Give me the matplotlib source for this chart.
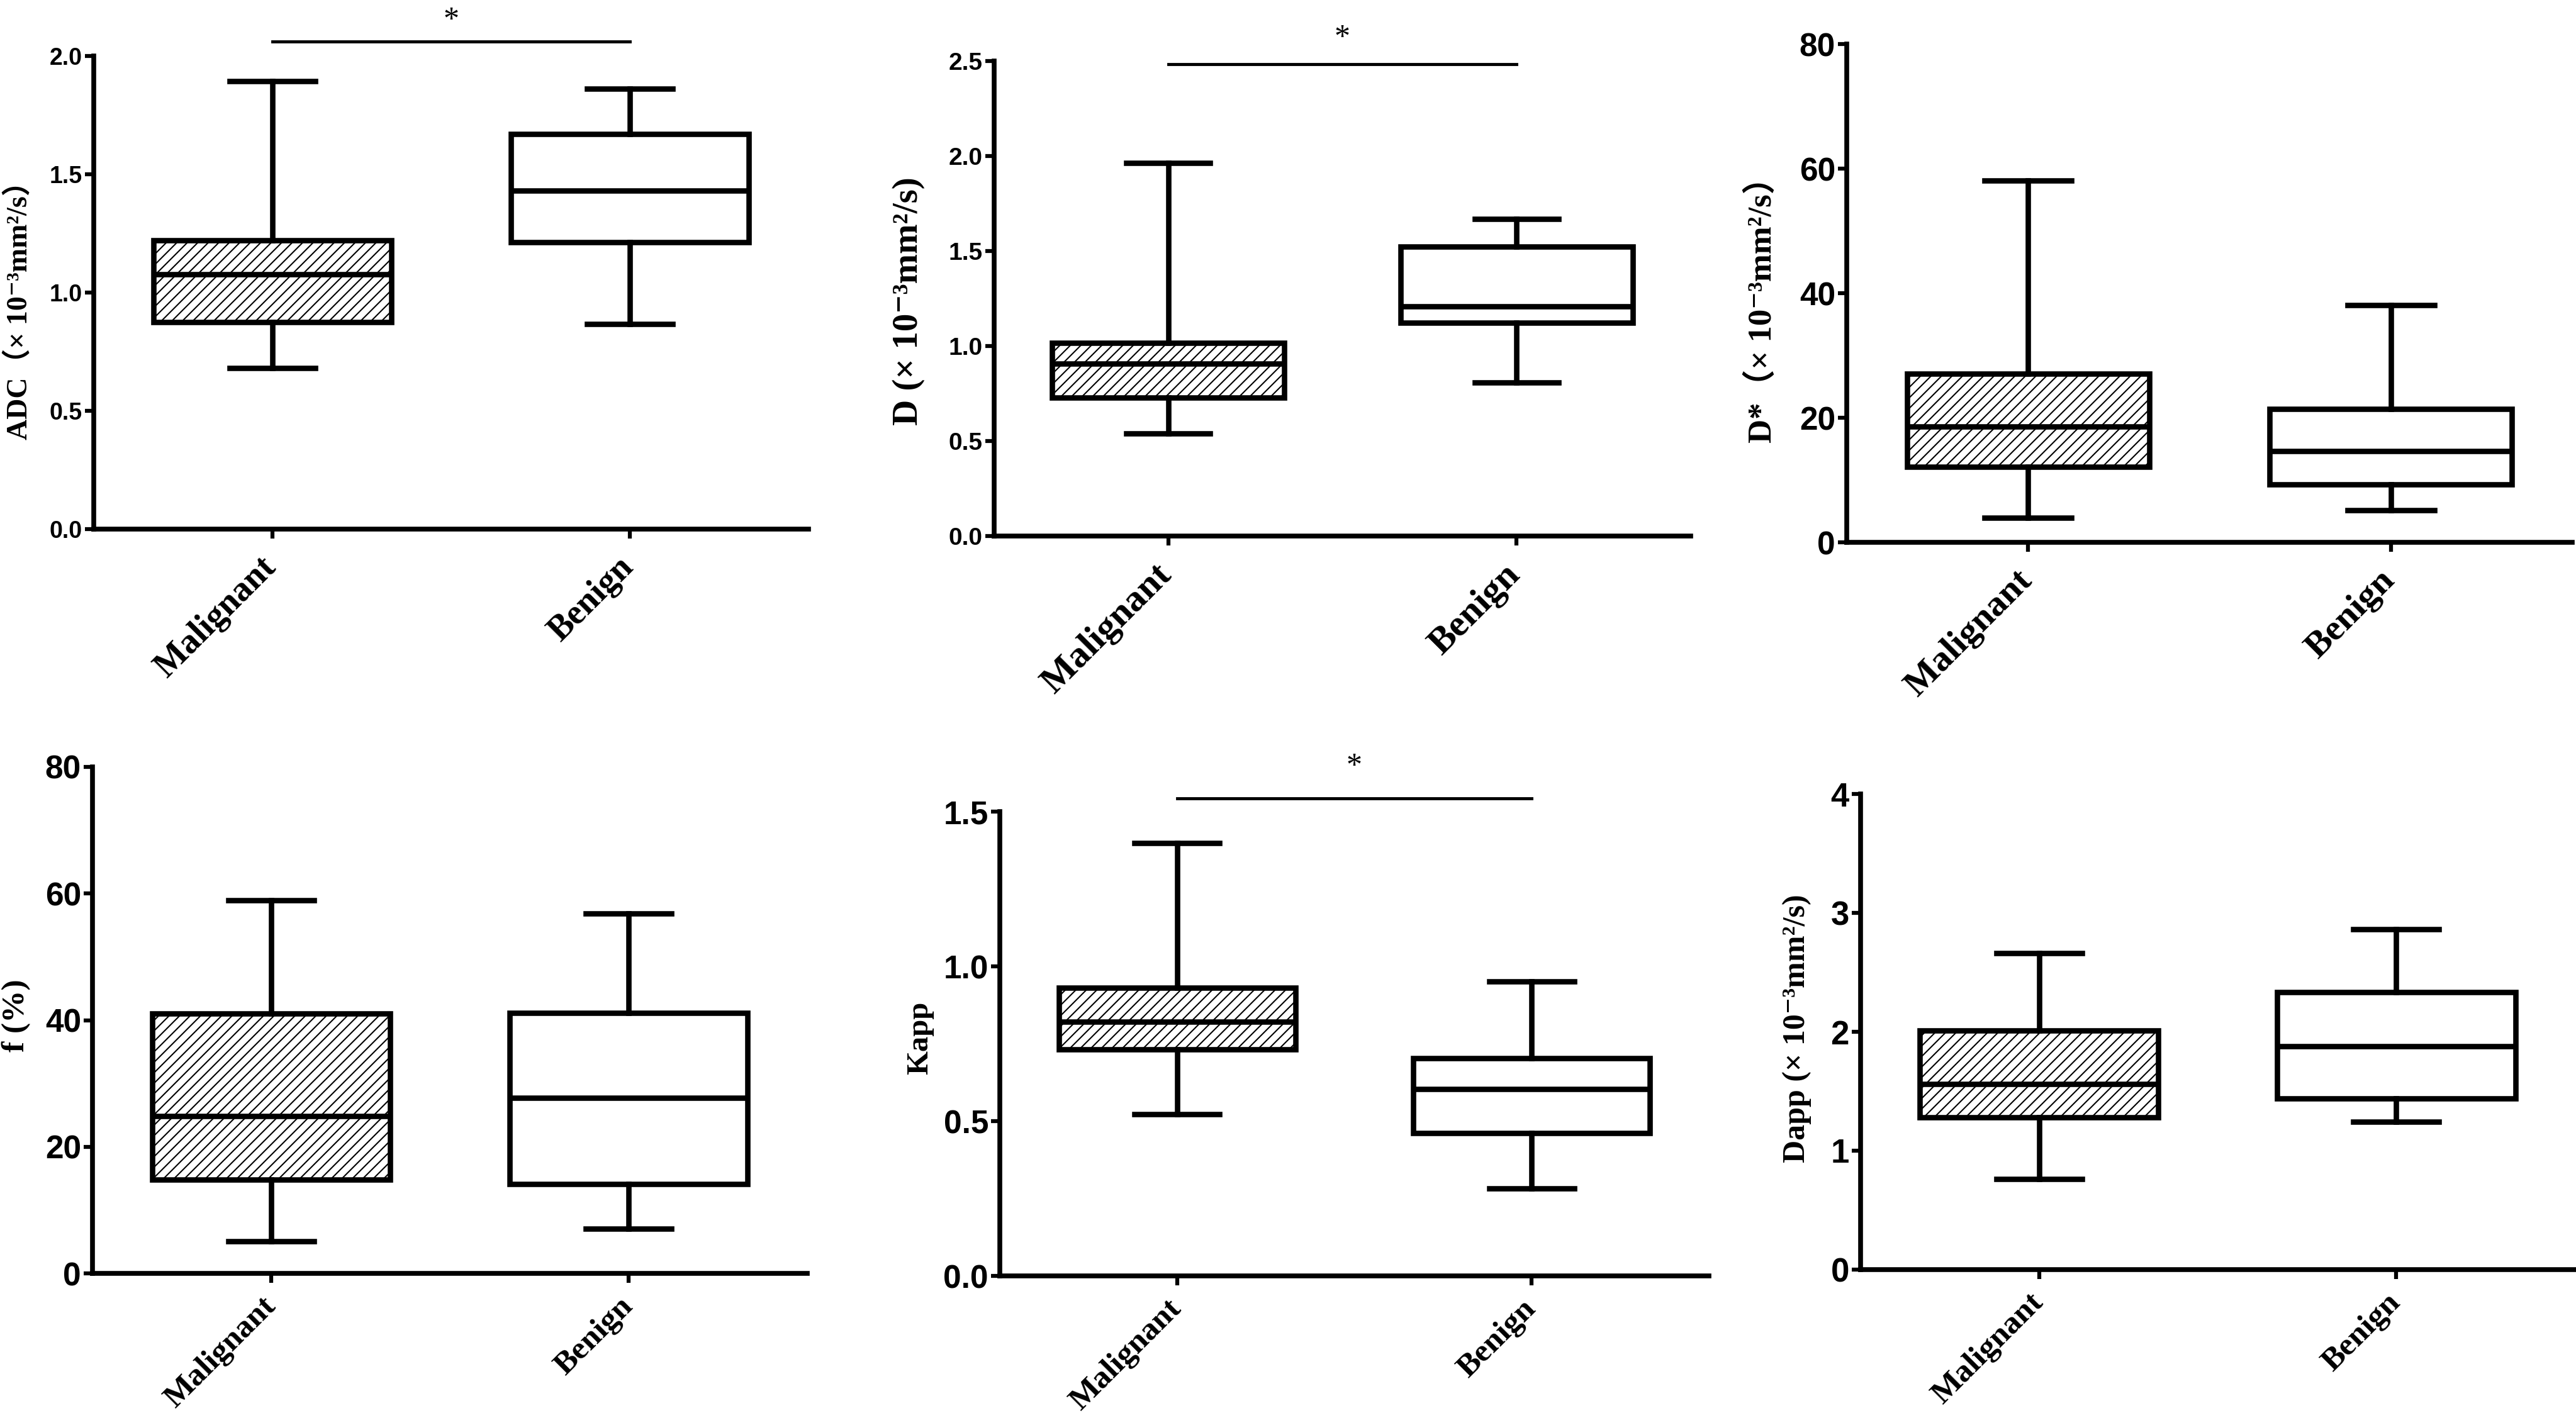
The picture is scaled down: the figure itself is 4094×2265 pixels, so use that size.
''' Box plots of IVIM / DKI parameters, malignant vs benign. '''

import matplotlib
matplotlib.use('Agg')
import matplotlib.pyplot as plt
import matplotlib.transforms as mtransforms

CATEGORIES = ['Malignant', 'Benign']

# five-number summaries: [min, Q1, median, Q3, max]
ADC_MALIGNANT = [0.68, 0.874, 1.078, 1.221, 1.893]
ADC_BENIGN = [0.868, 1.214, 1.431, 1.67, 1.862]
D_MALIGNANT = [0.54, 0.729, 0.906, 1.015, 1.965]
D_BENIGN = [0.809, 1.122, 1.209, 1.524, 1.669]
DSTAR_MALIGNANT = [3.9, 12.1, 18.6, 27.1, 58.1]
DSTAR_BENIGN = [5.2, 9.3, 14.6, 21.4, 38.1]
F_MALIGNANT = [5.1, 14.8, 24.8, 41.0, 58.9]
F_BENIGN = [7.1, 14.1, 27.7, 41.1, 56.8]
KAPP_MALIGNANT = [0.522, 0.731, 0.821, 0.931, 1.399]
KAPP_BENIGN = [0.283, 0.462, 0.603, 0.704, 0.951]
DAPP_MALIGNANT = [0.76, 1.28, 1.56, 2.01, 2.66]
DAPP_BENIGN = [1.243, 1.44, 1.876, 2.335, 2.86]

# significance bar height and star height (data units)
ADC_SIG = (2.06, 2.15)
D_SIG = (2.485, 2.62)
KAPP_SIG = (1.543, 1.645)

W, H = 4094, 2265
DPI = 100
LW = 6.2
SERIF = ['Liberation Serif', 'DejaVu Serif', 'Noto Sans CJK SC']

plt.rcParams['hatch.linewidth'] = 1.5
plt.rcParams['font.family'] = 'sans-serif'
plt.rcParams['font.sans-serif'] = ['Liberation Sans', 'DejaVu Sans']


def stats_of(v, name):
    return dict(whislo=v[0], q1=v[1], med=v[2], q3=v[3], whishi=v[4], fliers=[], label=name)


def draw_panel(fig, px, mal, ben, ymax, ystep, fmt, ylabel, label_xy,
               tick_fs, ylabel_fs, cat_fs, cat_pad=14, sig=None):
    '''px = (left, right, top, bottom) of the axes in pixels.'''
    left, right, top, bottom = px
    ax = fig.add_axes([left / W, 1 - bottom / H, (right - left) / W, (bottom - top) / H])

    bp = ax.bxp([stats_of(mal, CATEGORIES[0]), stats_of(ben, CATEGORIES[1])],
                positions=[1, 2], widths=0.667, capwidths=0.24,
                patch_artist=True, showfliers=False,
                boxprops=dict(linewidth=LW, edgecolor='black', facecolor='white'),
                medianprops=dict(color='black', linewidth=LW, solid_capstyle='butt'),
                whiskerprops=dict(color='black', linewidth=LW),
                capprops=dict(color='black', linewidth=LW))
    bp['boxes'][0].set_hatch('//')

    ax.set_xlim(0.5, 2.5)
    ax.set_ylim(0, ymax)
    n = int(round(ymax / ystep))
    ticks = [i * ystep for i in range(n + 1)]
    ax.set_yticks(ticks, [fmt.format(t) for t in ticks])

    for side in ('top', 'right'):
        ax.spines[side].set_visible(False)
    for side in ('left', 'bottom'):
        ax.spines[side].set_linewidth(5.5)

    ax.tick_params(axis='y', length=10, width=4.5, pad=3, labelsize=tick_fs)
    ax.tick_params(axis='x', length=11, width=4.5, pad=cat_pad)
    for lab in ax.get_yticklabels():
        lab.set_fontweight('bold')

    ax.set_xticks([1, 2], CATEGORIES, rotation=45, ha='right', va='top',
                  fontfamily=SERIF, fontweight='bold', fontsize=cat_fs)
    shift = mtransforms.ScaledTranslation(0.16, 0, fig.dpi_scale_trans)
    for lab in ax.get_xticklabels():
        lab.set_transform(lab.get_transform() + shift)

    ax.set_ylabel(ylabel, fontfamily=SERIF, fontweight='bold', fontsize=ylabel_fs)
    ax.yaxis.set_label_coords(*label_xy)

    if sig is not None:
        bar_y, star_y = sig
        ax.plot([1, 2], [bar_y, bar_y], color='black', linewidth=3.5, clip_on=False)
        ax.text(1.5, star_y, '*', ha='center', va='center', fontsize=36,
                fontfamily=SERIF, clip_on=False)
    return ax


def main():
    fig = plt.figure(figsize=(W / DPI, H / DPI), dpi=DPI)

    draw_panel(fig, (149, 1285, 89, 841), ADC_MALIGNANT, ADC_BENIGN, 2.0, 0.5, '{:.1f}',
               'ADC（× 10⁻³mm²/s）', (-0.085, 0.477), 27, 33, 40, sig=ADC_SIG)
    draw_panel(fig, (1580, 2687, 97, 852), D_MALIGNANT, D_BENIGN, 2.5, 0.5, '{:.1f}',
               'D (× 10⁻³mm²/s)', (-0.099, 0.495), 28, 41, 43, sig=D_SIG)
    draw_panel(fig, (2935, 4088, 70, 862), DSTAR_MALIGNANT, DSTAR_BENIGN, 80, 20, '{:.0f}',
               'D*（× 10⁻³mm²/s）', (-0.095, 0.482), 37, 38, 42)
    draw_panel(fig, (147, 1283, 1219, 2024), F_MALIGNANT, F_BENIGN, 80, 20, '{:.0f}',
               'f (%)', (-0.086, 0.509), 37, 37, 37, cat_pad=10)
    draw_panel(fig, (1589, 2716, 1290, 2028), KAPP_MALIGNANT, KAPP_BENIGN, 1.5, 0.5, '{:.1f}',
               'Kapp', (-0.093, 0.512), 37, 35, 37, cat_pad=10, sig=KAPP_SIG)
    draw_panel(fig, (2957, 4092, 1262, 2018), DAPP_MALIGNANT, DAPP_BENIGN, 4, 1, '{:.0f}',
               'Dapp (× 10⁻³mm²/s)', (-0.069, 0.507), 38, 36, 37, cat_pad=10)

    fig.savefig('out.png', dpi=DPI)


if __name__ == '__main__':
    main()
